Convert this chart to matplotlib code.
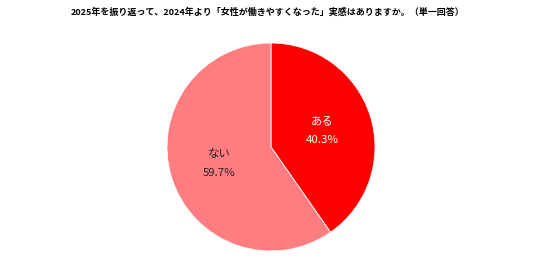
import matplotlib.pyplot as plt

plt.rcParams['font.family'] = ['Noto Sans CJK JP', 'DejaVu Sans']

# データ
labels = ['ある', 'ない']
values = [40.3, 59.7]
colors = ['#FF0000', '#FF7C80']
text_colors = ['white', '#222222']
title = '2025年を振り返って、2024年より「女性が働きやすくなった」実感はありますか。（単一回答）'

fig = plt.figure(figsize=(5.36, 2.68), dpi=100)
fig.text(0.5, 0.953, title, ha='center', va='center', fontsize=6.5, fontweight='bold')

ax = fig.add_axes([167 / 536, 17 / 268, 208 / 536, 208 / 268])
wedges, texts, autotexts = ax.pie(
    values, colors=colors, startangle=90, counterclock=False,
    autopct='%1.1f%%', pctdistance=0.52,
    wedgeprops=dict(linewidth=0.6, edgecolor='white'),
)
for i, t in enumerate(autotexts):
    t.set_text(f'{labels[i]}\n{values[i]:.1f}%')
    t.set_color(text_colors[i])
    t.set_fontsize(8.2)
    t.set_linespacing(2.1)
ax.set_xlim(-1, 1)
ax.set_ylim(-1, 1)
ax.set_aspect('equal')

fig.savefig('out.png', dpi=100)
